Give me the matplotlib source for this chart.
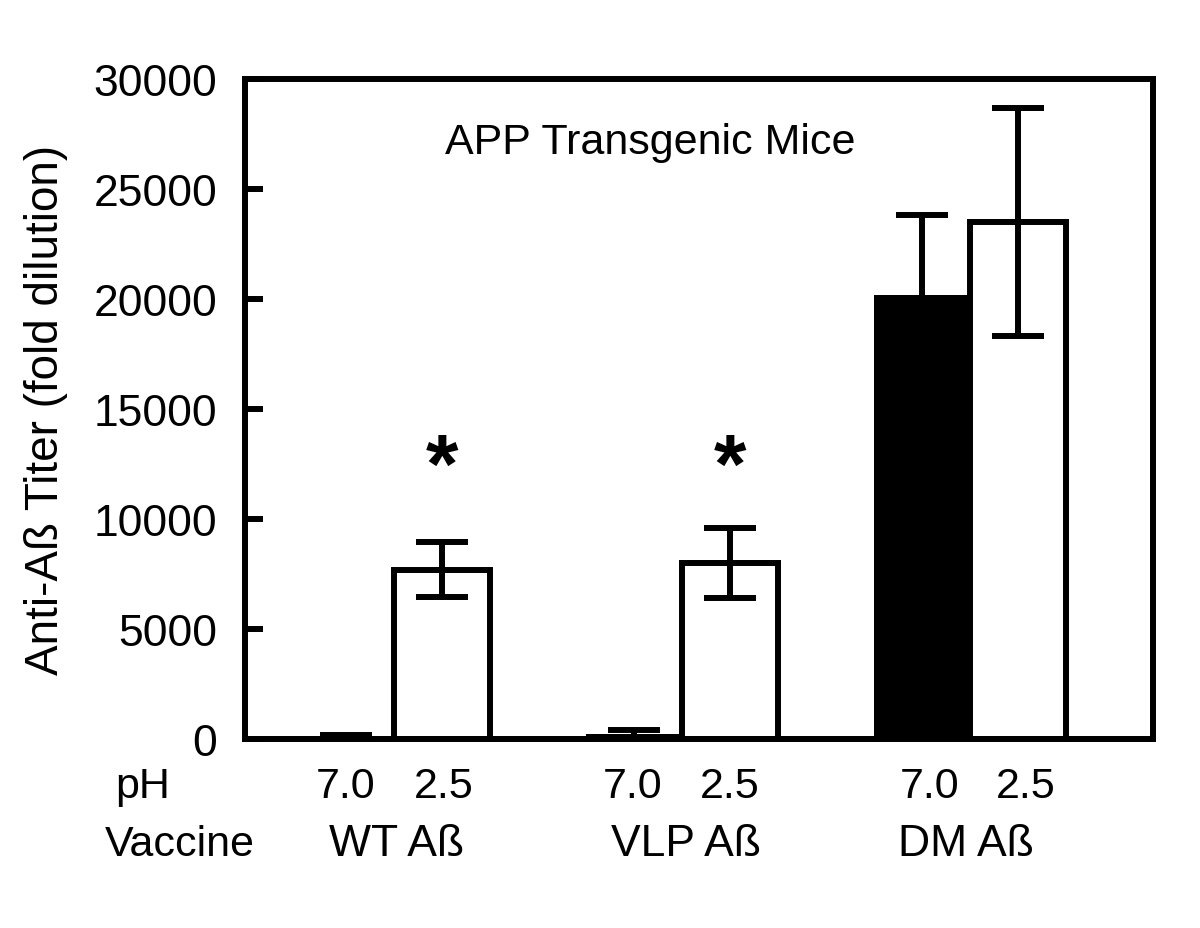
import numpy as np
import matplotlib.pyplot as plt

plt.rcParams['font.family'] = ['Liberation Sans', 'DejaVu Sans']

# data
positions = [1, 2, 4, 5, 7, 8]
ph_labels = ['7.0', '2.5', '7.0', '2.5', '7.0', '2.5']
ph_label_pos = [1.0, 2.02, 3.99, 5.0, 7.08, 8.08]
titers = [100, 7700, 250, 8000, 20200, 23500]
errors = [80, 1250, 150, 1600, 3600, 5200]
fills = ['black', 'white', 'black', 'white', 'black', 'white']
vaccines = ['WT Aß', 'VLP Aß', 'DM Aß']
vaccine_pos = [1.53, 4.54, 7.46]
star_pos = [2, 5]
star_level = 12250

fig = plt.figure(figsize=(12, 9.29), dpi=100)
ax = fig.add_axes([0.204, 0.2034, 0.757, 0.7105])

lw = 4.3
for x, h, e, c in zip(positions, titers, errors, fills):
    ax.bar(x, h, width=1.0, color=c, edgecolor='black',
           linewidth=0 if c == 'black' else lw, zorder=2)
    ax.errorbar(x, h, yerr=e, fmt='none', ecolor='black', elinewidth=lw,
                capsize=19, capthick=lw, zorder=3)

for x in star_pos:
    ax.text(x, star_level, '*', ha='center', va='center', fontsize=60,
            fontweight='bold')

ax.text(0.446, 0.905, 'APP Transgenic Mice', transform=ax.transAxes,
        ha='center', va='center', fontsize=31)

ax.set_xlim(-0.05, 9.41)
ax.set_ylim(0, 30000)
ax.set_yticks(np.arange(0, 30001, 5000))
ax.set_xticks([])
ax.tick_params(axis='y', direction='in', length=13, width=lw,
               labelsize=32, pad=20)
for s in ax.spines.values():
    s.set_linewidth(lw)
ax.set_ylabel('Anti-Aß Titer (fold dilution)', fontsize=33, labelpad=18)

tr = ax.get_xaxis_transform()
ax.text(-1.40, -0.071, 'pH', transform=tr, ha='left', va='center',
        fontsize=31, clip_on=False)
ax.text(-1.51, -0.159, 'Vaccine', transform=tr, ha='left', va='center',
        fontsize=31, clip_on=False)
for x, lab in zip(ph_label_pos, ph_labels):
    ax.text(x, -0.071, lab, transform=tr, ha='center', va='center',
            fontsize=31)
for x, lab in zip(vaccine_pos, vaccines):
    ax.text(x, -0.159, lab, transform=tr, ha='center', va='center',
            fontsize=32)

fig.savefig('out.png', dpi=100)
